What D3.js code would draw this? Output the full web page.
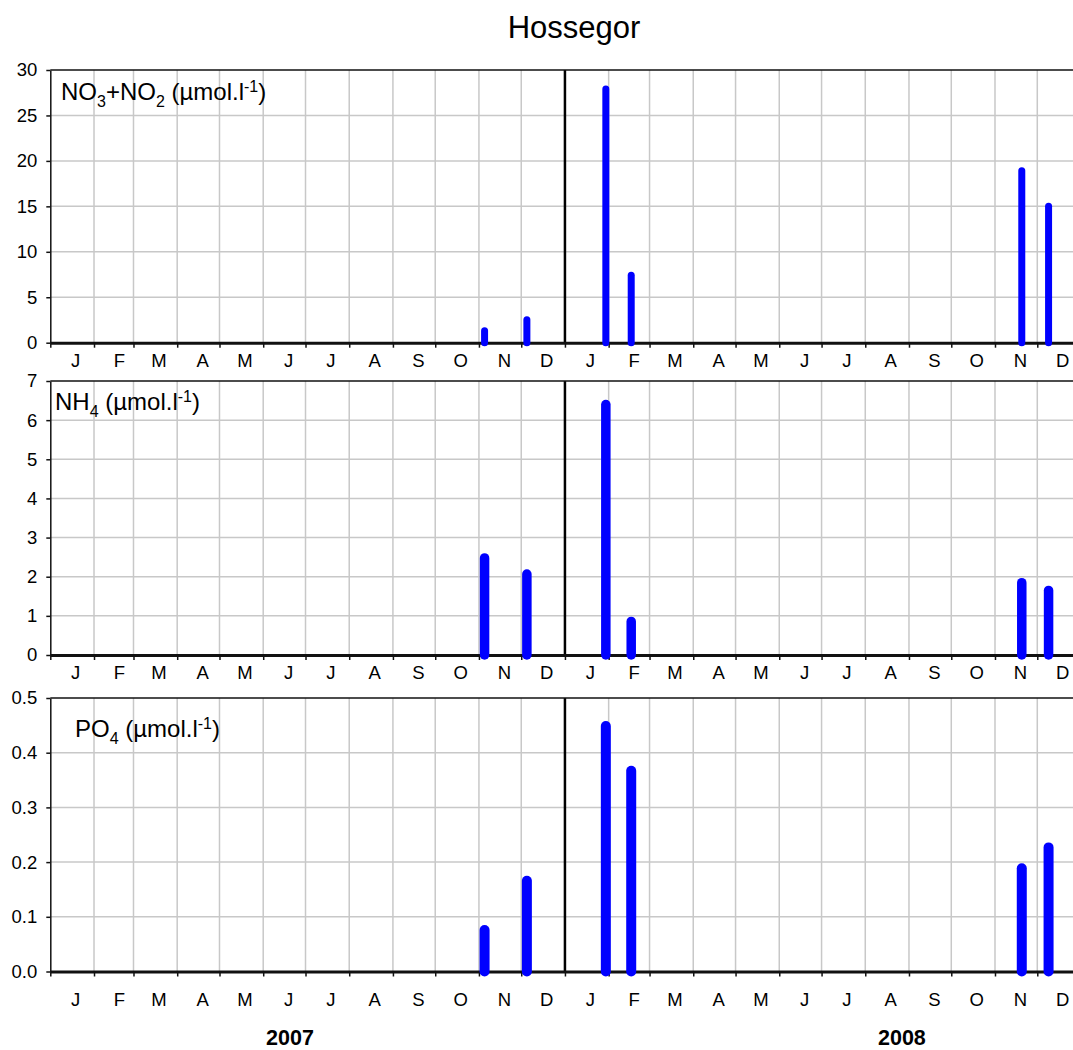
<!DOCTYPE html>
<html>
<head>
<meta charset="utf-8">
<script src="https://cdn.jsdelivr.net/npm/d3@7"></script>
<style>
  body { margin: 0; background: #fff; }
  svg { display: block; font-family: Arial, 'Liberation Sans', sans-serif; }
</style>
</head>
<body>
<svg width="1073" height="1050"></svg>
<script>
// Data
const monthLabels = ['J', 'F', 'M', 'A', 'M', 'J', 'J', 'A', 'S', 'O', 'N', 'D'];
const years = ['2007', '2008'];
const sampleDates = ['2007-11-05', '2007-12-05', '2008-01-30', '2008-02-17', '2008-11-20', '2008-12-09'];
const no3no2 = [1.7, 2.9, 28.3, 7.8, 19.3, 15.4];
const nh4 = [2.6, 2.19, 6.52, 0.98, 1.97, 1.77];
const po4 = [0.085, 0.175, 0.458, 0.376, 0.198, 0.236];
const no3Ticks = [0, 5, 10, 15, 20, 25, 30];
const nh4Ticks = [0, 1, 2, 3, 4, 5, 6, 7];
const po4Ticks = [0, 0.1, 0.2, 0.3, 0.4, 0.5];

// The svg
const svg = d3.select('svg'),
  width = +svg.attr('width'),
  height = +svg.attr('height');

const parseDate = d3.timeParse('%Y-%m-%d');
const start = new Date(2007, 0, 1),
  split = new Date(2008, 0, 1),
  end = new Date(2009, 0, 1);

// x runs past the right edge, the picture is cut there
const x = d3.scaleTime().domain([start, end]).range([50.3, 1081]);
const months = d3.timeMonth.range(start, end);

const panels = [
  {
    values: no3no2, ticks: no3Ticks, fmt: d3.format('d'),
    top: 70, bottom: 342.7, barWidth: 7, labelGap: 24,
    name: [['NO', 'n'], ['3', 'sub'], ['+NO', 'n'], ['2', 'sub'], [' (\u00b5mol.l', 'n'], ['-1', 'sup'], [')', 'n']],
    nameX: 61, nameY: 100
  },
  {
    values: nh4, ticks: nh4Ticks, fmt: d3.format('d'),
    top: 381, bottom: 655, barWidth: 9.5, labelGap: 24,
    name: [['NH', 'n'], ['4', 'sub'], [' (\u00b5mol.l', 'n'], ['-1', 'sup'], [')', 'n']],
    nameX: 55, nameY: 410
  },
  {
    values: po4, ticks: po4Ticks, fmt: d3.format('.1f'),
    top: 698, bottom: 971.5, barWidth: 10, labelGap: 34,
    name: [['PO', 'n'], ['4', 'sub'], [' (\u00b5mol.l', 'n'], ['-1', 'sup'], [')', 'n']],
    nameX: 75, nameY: 737
  }
];

// Title
svg
  .append('text')
  .attr('x', 574)
  .attr('y', 38)
  .attr('text-anchor', 'middle')
  .style('font-size', '31px')
  .text('Hossegor');

panels.forEach(function (p) {
  const y = d3
    .scaleLinear()
    .domain([p.ticks[0], p.ticks[p.ticks.length - 1]])
    .range([p.bottom, p.top]);
  const g = svg.append('g');

  // horizontal grid
  g.append('g')
    .selectAll('line')
    .data(p.ticks.slice(1, -1))
    .enter()
    .append('line')
    .attr('x1', x(start))
    .attr('x2', x(end))
    .attr('y1', function (d) { return y(d); })
    .attr('y2', function (d) { return y(d); })
    .style('stroke', '#c8c8c8')
    .style('stroke-width', 1.5);

  // vertical grid at month starts
  g.append('g')
    .selectAll('line')
    .data(months.filter(function (d) { return +d !== +start && +d !== +split; }))
    .enter()
    .append('line')
    .attr('x1', function (d) { return x(d); })
    .attr('x2', function (d) { return x(d); })
    .attr('y1', p.top)
    .attr('y2', p.bottom)
    .style('stroke', '#c8c8c8')
    .style('stroke-width', 1.5);

  // year split line
  g.append('line')
    .attr('x1', x(split))
    .attr('x2', x(split))
    .attr('y1', p.top)
    .attr('y2', p.bottom)
    .style('stroke', '#000')
    .style('stroke-width', 2.5);

  // top border
  g.append('line')
    .attr('x1', x(start))
    .attr('x2', x(end))
    .attr('y1', p.top)
    .attr('y2', p.top)
    .style('stroke', '#111')
    .style('stroke-width', 1.5);

  // y axis
  const yAxis = d3
    .axisLeft(y)
    .tickValues(p.ticks)
    .tickFormat(p.fmt)
    .tickSize(4)
    .tickSizeOuter(0)
    .tickPadding(9);
  const gy = g.append('g').attr('transform', `translate(${x(start)},0)`);
  yAxis(gy);
  gy.select('.domain').style('stroke', '#111').style('stroke-width', 1.5);
  gy.selectAll('.tick line').style('stroke', '#111').style('stroke-width', 1.5);
  gy.selectAll('text')
    .style('font-size', '18.5px')
    .style('font-family', "Arial, 'Liberation Sans', sans-serif")
    .attr('fill', '#000');

  // x axis, ticks at month starts
  const xAxis = d3
    .axisBottom(x)
    .tickValues(months)
    .tickFormat('')
    .tickSize(5)
    .tickSizeOuter(0);
  const gx = g.append('g').attr('transform', `translate(0,${p.bottom})`);
  xAxis(gx);
  gx.select('.domain').style('stroke', '#111').style('stroke-width', 3);
  gx.selectAll('.tick line').style('stroke', '#111').style('stroke-width', 1.5);

  // month letters
  g.append('g')
    .selectAll('text')
    .data(months)
    .enter()
    .append('text')
    .attr('x', function (d) { return x(d3.timeDay.offset(d, 18)); })
    .attr('y', p.bottom + p.labelGap)
    .attr('text-anchor', 'middle')
    .style('font-size', '18.5px')
    .text(function (d) { return monthLabels[d.getMonth()]; });

  // bars
  g.append('g')
    .selectAll('line')
    .data(p.values)
    .enter()
    .append('line')
    .attr('x1', function (d, i) { return x(parseDate(sampleDates[i])); })
    .attr('x2', function (d, i) { return x(parseDate(sampleDates[i])); })
    .attr('y1', y(0))
    .attr('y2', function (d) { return y(d) + p.barWidth / 2; })
    .style('stroke', '#0000ff')
    .style('stroke-width', p.barWidth)
    .style('stroke-linecap', 'round');

  // panel name with sub and superscripts
  const label = g
    .append('text')
    .attr('x', p.nameX)
    .attr('y', p.nameY)
    .style('font-size', '24px')
    .style('white-space', 'pre');
  let shift = 0;
  p.name.forEach(function (part) {
    const want = part[1] === 'sub' ? 6.5 : part[1] === 'sup' ? -8 : 0;
    label
      .append('tspan')
      .attr('dy', want - shift)
      .style('font-size', part[1] === 'n' ? '24px' : '16px')
      .text(part[0]);
    shift = want;
  });
});

// year labels
svg
  .selectAll('.year')
  .data(years)
  .enter()
  .append('text')
  .attr('class', 'year')
  .attr('x', function (d, i) { return i === 0 ? x(new Date(2007, 5, 20)) : x(new Date(2008, 7, 27)); })
  .attr('y', 1045)
  .attr('text-anchor', 'middle')
  .style('font-size', '21.5px')
  .style('font-weight', 'bold')
  .text(function (d) { return d; });
</script>
</body>
</html>
